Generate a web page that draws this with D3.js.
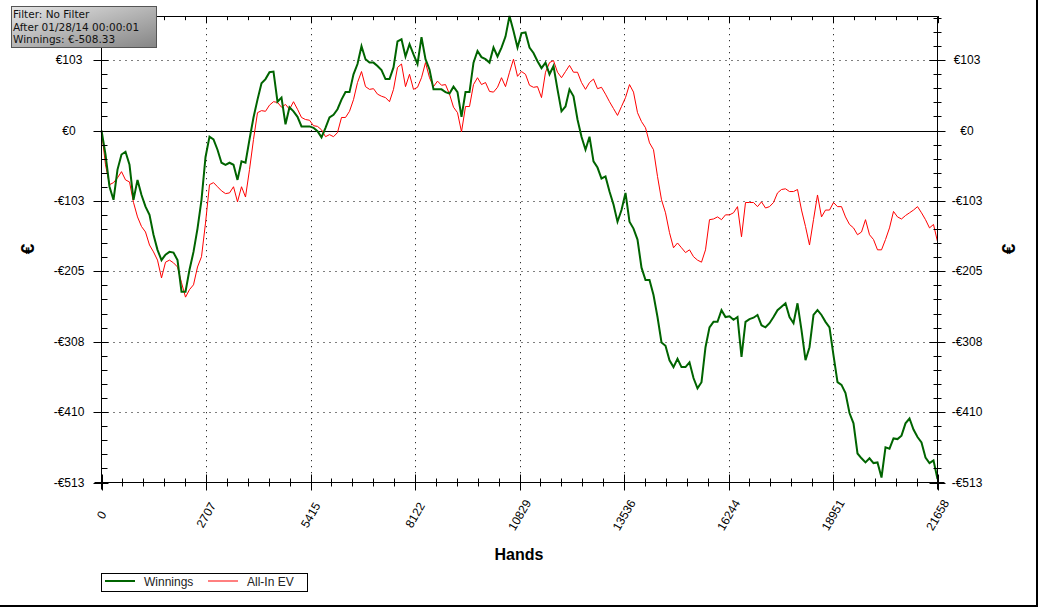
<!DOCTYPE html>
<html><head><meta charset="utf-8">
<script src="https://cdn.jsdelivr.net/npm/d3@7"></script>
<style>body{margin:0;background:#fff;} svg{display:block;font-family:"Liberation Sans",Arial,sans-serif;}</style>
</head><body><svg id="c" width="1038" height="607"></svg>
<script>
// ---- data (euros, sampled at evenly spaced hand counts from 0 to 21658) ----
const totalHands = 21658;
const winnings = [0,-35,-82,-101,-57,-35,-31,-50,-101,-72,-94,-111,-123,-152,-174,-189,-181,-177,-178,-189,
-235,-235,-203,-177,-143,-101,-39,-9,-13,-28,-47,-50,-47,-50,-72,-45,-47,-13,19,45,
69,75,85,86,42,48,9,34,28,20,6,6,6,4,-1,-10,4,19,23,31,
45,56,56,82,97,123,104,99,99,94,88,75,75,92,130,133,108,126,111,97,
136,104,89,60,60,60,56,54,64,56,20,56,56,99,116,107,104,99,121,108,
121,137,167,145,121,142,143,121,113,101,91,99,82,94,60,28,35,60,50,16,
-9,-28,-9,-45,-54,-70,-67,-89,-108,-133,-116,-91,-133,-143,-159,-200,-218,-218,-240,-272,
-309,-314,-335,-345,-333,-345,-345,-338,-361,-376,-367,-316,-287,-279,-279,-262,-272,-271,-276,-272,
-330,-279,-275,-273,-269,-284,-287,-281,-272,-262,-257,-252,-272,-281,-252,-291,-335,-316,-269,-262,
-269,-279,-287,-328,-367,-371,-383,-412,-427,-471,-478,-484,-478,-485,-484,-506,-462,-464,-449,-450,
-445,-427,-420,-436,-447,-455,-477,-485,-481,-508.33];
const allInEV = [0,-50,-79,-76,-69,-60,-72,-75,-105,-126,-140,-148,-167,-177,-189,-215,-192,-189,-193,-199,
-222,-243,-232,-225,-199,-184,-135,-79,-76,-82,-88,-92,-91,-82,-104,-82,-97,-57,-13,26,
29,28,37,42,41,34,38,31,42,31,19,16,15,7,6,1,-9,-6,-9,-3,
19,19,28,45,70,86,64,60,61,53,50,48,42,60,92,97,64,82,60,63,
77,99,77,64,72,66,67,53,34,26,-2,35,35,67,77,67,70,57,56,63,
77,64,85,104,79,86,82,66,63,64,48,85,99,102,85,77,86,95,85,85,
70,60,70,75,61,63,53,42,32,22,35,48,67,56,26,13,4,-18,-28,-67,
-101,-120,-149,-171,-164,-171,-178,-174,-184,-189,-192,-174,-130,-129,-126,-130,-123,-123,-120,-111,
-155,-105,-105,-105,-111,-104,-113,-111,-105,-91,-86,-85,-89,-89,-86,-116,-140,-167,-130,-94,
-126,-116,-116,-105,-111,-111,-126,-137,-142,-152,-148,-130,-152,-159,-174,-174,-159,-142,-118,-126,
-129,-124,-120,-116,-111,-120,-130,-142,-137,-162];
const xTickValues = [0,2707,5415,8122,10829,13536,16244,18951,21658];
const yTickValues = [-513.3,-410.6,-308,-205.3,-102.7,0,102.7];
const yTickLabels = ["-€513","-€410","-€308","-€205","-€103","€0","€103"];
const seriesNames = ["Winnings","All-In EV"];
const filterLines = ["Filter: No Filter","After 01/28/14 00:00:01","Winnings: €-508.33"];
const xTitle = "Hands", yTitle = "€";

// ---- drawing ----
const svg = d3.select("#c");
const L = 101.5, R = 937.5, T = 16.2, B = 482.5;
const n = winnings.length;
const hands = d3.range(n).map(i => i * totalHands / (n - 1));
const x = d3.scaleLinear().domain([0, totalHands]).range([L, R]);
const y = d3.scaleLinear().domain([-513.3, 166.7]).range([B, T]);
const yStep = 102.66, xStep = 2707.25;

// grid
const g = svg.append("g");
xTickValues.slice(1, -1).forEach(v => {
  g.append("line").attr("x1", Math.round(x(v)) + 0.5).attr("x2", Math.round(x(v)) + 0.5)
    .attr("y1", T).attr("y2", B).attr("stroke", "#000").attr("stroke-dasharray", "1 5");
});
yTickValues.forEach(v => {
  if (v === 0 || v === -513.3) return;
  g.append("line").attr("x1", L).attr("x2", R)
    .attr("y1", Math.round(y(v)) + 0.5).attr("y2", Math.round(y(v)) + 0.5)
    .attr("stroke", "#000").attr("stroke-dasharray", "1 5");
});
g.append("line").attr("x1", L).attr("x2", R).attr("y1", Math.round(y(0)) + 0.5).attr("y2", Math.round(y(0)) + 0.5)
  .attr("stroke", "#000");

// series
const line = d3.line().x((d, i) => x(hands[i])).y(d => y(d));
svg.append("path").datum(allInEV).attr("d", line).attr("fill", "none").attr("stroke", "#ff0000").attr("stroke-width", 1);
svg.append("path").datum(winnings).attr("d", line).attr("fill", "none").attr("stroke", "#006400").attr("stroke-width", 2);

// axes frame lines
const ax = svg.append("g").attr("stroke", "#000").attr("stroke-width", 1);
ax.append("line").attr("x1", L).attr("x2", L).attr("y1", T).attr("y2", B + 7);
ax.append("line").attr("x1", R).attr("x2", R).attr("y1", T).attr("y2", B + 7);
ax.append("line").attr("x1", L - 7).attr("x2", R + 7).attr("y1", B).attr("y2", B);
ax.append("line").attr("x1", L).attr("x2", R).attr("y1", Math.round(T) + 0.5).attr("y2", Math.round(T) + 0.5);

// y ticks
const yMinor = d3.range(0, 34).map(k => -513.3 + k * yStep / 5);
yMinor.forEach(v => {
  const yy = Math.round(y(v)) + 0.5;
  ax.append("line").attr("x1", L).attr("x2", L + 6).attr("y1", yy).attr("y2", yy);
  ax.append("line").attr("x1", R - 4).attr("x2", R + 4).attr("y1", yy).attr("y2", yy);
});
yTickValues.forEach(v => {
  const yy = Math.round(y(v)) + 0.5;
  ax.append("line").attr("x1", L - 8).attr("x2", L + 7).attr("y1", yy).attr("y2", yy);
  ax.append("line").attr("x1", R - 8).attr("x2", R + 8).attr("y1", yy).attr("y2", yy);
});
// x ticks
const xMinor = d3.range(0, 41).map(k => k * xStep / 5);
xMinor.forEach(v => {
  const xx = Math.round(x(v)) + 0.5;
  ax.append("line").attr("x1", xx).attr("x2", xx).attr("y1", B - 4).attr("y2", B + 4);
  ax.append("line").attr("x1", xx).attr("x2", xx).attr("y1", T).attr("y2", T + 4);
});
xTickValues.forEach(v => {
  const xx = Math.round(x(v)) + 0.5;
  ax.append("line").attr("x1", xx).attr("x2", xx).attr("y1", B - 8).attr("y2", B + 8);
  ax.append("line").attr("x1", xx).attr("x2", xx).attr("y1", T).attr("y2", T + 7);
});

// tick labels
yTickValues.forEach((v, i) => {
  svg.append("text").attr("x", 69).attr("y", y(v)).attr("dy", "0.35em").attr("text-anchor", "middle")
    .attr("font-size", 12).text(yTickLabels[i]);
  svg.append("text").attr("x", 967).attr("y", y(v)).attr("dy", "0.35em").attr("text-anchor", "middle")
    .attr("font-size", 12).text(yTickLabels[i]);
});
xTickValues.forEach(v => {
  svg.append("text").attr("transform", `translate(${x(v)},515) rotate(-60)`)
    .attr("text-anchor", "middle").attr("dy", "0.35em").attr("font-size", 12).text(v);
});

// titles
svg.append("text").attr("x", 519).attr("y", 560).attr("text-anchor", "middle")
  .attr("font-size", 16).attr("font-weight", "bold").text(xTitle);
[27, 1008].forEach(cx => {
  svg.append("text").attr("transform", `translate(${cx},249) rotate(-90)`).attr("text-anchor", "middle")
    .attr("dy", "0.35em").attr("font-size", 19).attr("font-weight", "bold").text(yTitle);
});

// filter box
const defs = svg.append("defs");
const grad = defs.append("linearGradient").attr("id", "fb").attr("x1", "0").attr("y1", "0").attr("x2", "1").attr("y2", "1");
grad.append("stop").attr("offset", "0").attr("stop-color", "#e6e6e6");
grad.append("stop").attr("offset", "1").attr("stop-color", "#858585");
svg.append("rect").attr("x", 11.5).attr("y", 6.5).attr("width", 145).attr("height", 41)
  .attr("fill", "url(#fb)").attr("stroke", "#555");
filterLines.forEach((t, i) => {
  svg.append("text").attr("x", 13).attr("y", 18 + i * 12.5).attr("font-family", "'DejaVu Sans', Verdana, sans-serif")
    .attr("font-size", 10.5).attr("fill", "#111").text(t);
});

// legend
svg.append("rect").attr("x", 101.5).attr("y", 573.5).attr("width", 206).attr("height", 18)
  .attr("fill", "#fff").attr("stroke", "#000");
const legendColors = ["#006400", "#ff0000"], legendW = [2, 1], legendX = [105, 208];
seriesNames.forEach((s, i) => {
  svg.append("line").attr("x1", legendX[i]).attr("x2", legendX[i] + 30).attr("y1", 581).attr("y2", 581)
    .attr("stroke", legendColors[i]).attr("stroke-width", legendW[i]);
  svg.append("text").attr("x", legendX[i] + 39).attr("y", 586).attr("font-size", 12).attr("fill", "#222").text(s);
});

// outer border (right and bottom)
svg.append("line").attr("x1", 1037).attr("x2", 1037).attr("y1", 0).attr("y2", 607).attr("stroke", "#000").attr("stroke-width", 2);
svg.append("line").attr("x1", 0).attr("x2", 1038).attr("y1", 606).attr("y2", 606).attr("stroke", "#000").attr("stroke-width", 2);
</script></body></html>
